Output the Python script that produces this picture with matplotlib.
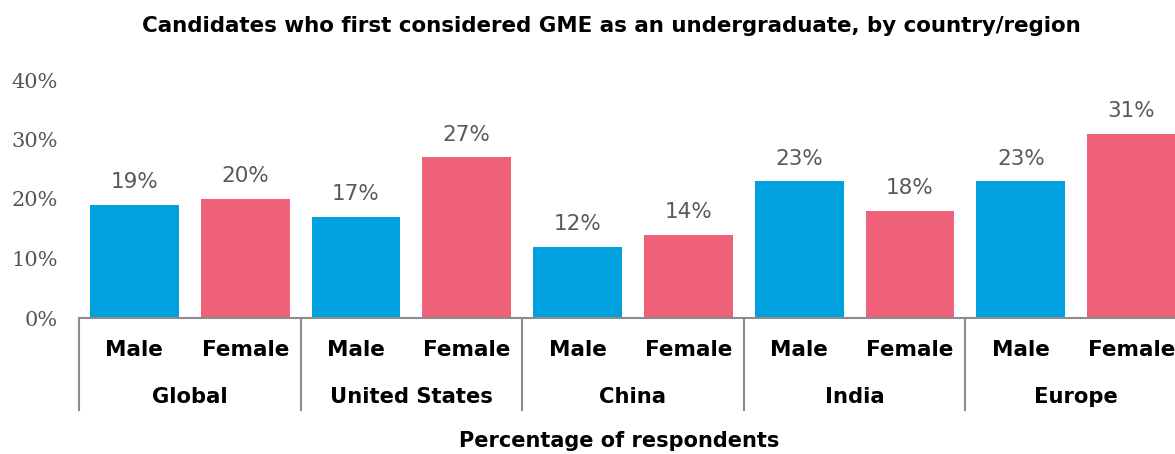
import matplotlib
matplotlib.use("Agg")
import matplotlib.pyplot as plt
import matplotlib.transforms as mtransforms

regions = ["Global", "United States", "China", "India", "Europe"]
genders = ["Male", "Female"]
male_values = [19, 17, 12, 23, 23]
female_values = [20, 27, 14, 18, 31]
y_ticks = [0, 10, 20, 30, 40]

blue = "#00A1DE"
pink = "#EF6079"
gray_text = "#595959"
axis_gray = "#8C8C8C"

fig = plt.figure(figsize=(11.75, 4.54), dpi=100)
ax = fig.add_axes([79/1175, 1-318/454, 1-79/1175, 238/454])

positions, heights, colors, xlabels = [], [], [], []
for i in range(len(regions)):
    for j, vals in enumerate([male_values, female_values]):
        positions.append(2*i + j)
        heights.append(vals[i])
        colors.append(blue if j == 0 else pink)
        xlabels.append(genders[j])

bars = ax.bar(positions, heights, width=0.8, color=colors)
for x, h in zip(positions, heights):
    ax.annotate(f"{h}%", (x, h), xytext=(0, 9), textcoords="offset points",
                ha="center", va="bottom", fontsize=15.5, color=gray_text,
                family="DejaVu Sans")

ax.set_ylim(0, 40)
ax.set_xlim(-0.5, -0.5 + (1175-79)/110.8)
ax.set_yticks(y_ticks)
ax.set_yticklabels([f"{t}%" for t in y_ticks], family="DejaVu Serif",
                   fontsize=15, color="#555555")
ax.tick_params(axis="y", length=0, pad=15)
ax.set_xticks(positions)
ax.set_xticklabels(xlabels, fontsize=15.5, fontweight="bold", color="black")
ax.tick_params(axis="x", length=0, pad=15.5)

for s in ["top", "right", "left"]:
    ax.spines[s].set_visible(False)
ax.spines["bottom"].set_color(axis_gray)
ax.spines["bottom"].set_linewidth(1.5)

trans = mtransforms.blended_transform_factory(ax.transData, ax.transAxes)
for b in range(len(regions) + 1):
    xb = 2*b - 0.5
    ax.plot([xb, xb], [0, -92/238], transform=trans, color=axis_gray,
            lw=1.5, clip_on=False)
for i, r in enumerate(regions):
    ax.text(2*i + 0.5, -79/238, r, transform=trans, ha="center", va="center",
            fontsize=15.2, fontweight="bold", color="black")

fig.text(619/1175, 1-441/454, "Percentage of respondents", ha="center",
         va="center", fontsize=15, fontweight="bold", color="black")
fig.text(611/1175, 1-26/454,
         "Candidates who first considered GME as an undergraduate, by country/region",
         ha="center", va="center", fontsize=15.4, fontweight="bold", color="black")

fig.savefig("out.png", dpi=100)
